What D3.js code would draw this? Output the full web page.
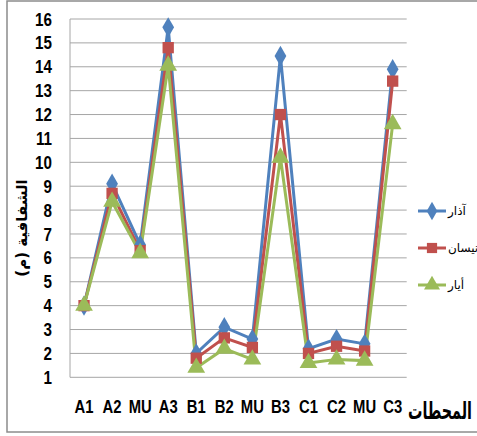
<!DOCTYPE html>
<html><head><meta charset="utf-8">
<script src="https://cdn.jsdelivr.net/npm/d3@7"></script>
<style>
body{margin:0;background:#fff;}
svg{display:block;}
</style></head>
<body>
<svg id="chart" width="477" height="436"></svg>
<script>
const categories = ["A1","A2","MU","A3","B1","B2","MU","B3","C1","C2","MU","C3"];
const seriesNames = ["آذار","نيسان","أيار"];
const adhar  = [4.0, 9.1, 6.55, 15.65, 2.0, 3.1, 2.6, 14.45, 2.2, 2.6, 2.4, 13.9];
const nisan  = [4.0, 8.7, 6.3, 14.8, 1.8, 2.65, 2.25, 12.0, 2.0, 2.3, 2.1, 13.4];
const ayyar  = [4.0, 8.35, 6.2, 14.05, 1.4, 2.2, 1.75, 10.2, 1.6, 1.75, 1.7, 11.6];
const yTicks = [1,2,3,4,5,6,7,8,9,10,11,12,13,14,15,16];
const colors = ["#4F81BD","#C0504D","#9BBB59"];
const symbols = [d3.symbolDiamond, d3.symbolSquare, d3.symbolTriangle];
const symSizes = [75, 80, 85];

const svg = d3.select("#chart");
const W = 477, H = 436;
const plot = {left:70, right:406.7, top:19, bottom:377.3};
const font = "'Liberation Sans',Arial,sans-serif";
const arFont = "'DejaVu Sans','Noto Sans',sans-serif";

function narrow(sel, f){
  sel.each(function(){
    const len = this.getComputedTextLength();
    d3.select(this).attr("textLength", len*f).attr("lengthAdjust","spacingAndGlyphs");
  });
}

// outer border
svg.append("rect").attr("x",7).attr("y",1).attr("width",W+10).attr("height",432-1)
  .attr("fill","none").attr("stroke","#8c8c8c").attr("stroke-width",1.5);

const x = d3.scaleBand().domain(d3.range(categories.length)).range([plot.left, plot.right]);
const y = d3.scaleLinear().domain([1,16]).range([plot.bottom, plot.top]);

// gridlines
svg.append("g").selectAll("line").data(yTicks).join("line")
  .attr("x1",plot.left).attr("x2",plot.right)
  .attr("y1",d=>y(d)).attr("y2",d=>y(d))
  .attr("stroke","#a6a6a6").attr("stroke-width",1);
svg.append("line").attr("x1",plot.left).attr("x2",plot.left).attr("y1",plot.top).attr("y2",plot.bottom)
  .attr("stroke","#a6a6a6").attr("stroke-width",1);

// y axis
const yAxis = d3.axisLeft(y).tickValues(yTicks).tickSize(0).tickPadding(18).tickFormat(d3.format("d"));
const gy = svg.append("g").attr("transform",`translate(${plot.left},0)`).call(yAxis);
gy.select(".domain").remove();
gy.selectAll("text").attr("font-family",font).attr("font-weight","bold").attr("font-size",19).attr("fill","#000")
  .call(narrow, 0.8);

// x axis
const xAxis = d3.axisBottom(x).tickSize(0).tickPadding(22).tickFormat(i=>categories[i]);
const gx = svg.append("g").attr("transform",`translate(0,${plot.bottom})`).call(xAxis);
gx.select(".domain").remove();
gx.selectAll("text").attr("font-family",font).attr("font-weight","bold").attr("font-size",19).attr("fill","#000")
  .call(narrow, 0.78);

// lines
const allSeries = [adhar, nisan, ayyar];
const line = d3.line().x((d,i)=>x(i)+x.bandwidth()/2).y(d=>y(d));
allSeries.forEach((s,k)=>{
  svg.append("path").datum(s).attr("d",line).attr("fill","none")
    .attr("stroke",colors[k]).attr("stroke-width",3).attr("stroke-linejoin","miter");
});
allSeries.forEach((s,k)=>{
  svg.append("g").selectAll("path").data(s).join("path")
    .attr("transform",(d,i)=>`translate(${x(i)+x.bandwidth()/2},${y(d)})`)
    .attr("d",d3.symbol().type(symbols[k]).size(symSizes[k]*1.6))
    .attr("fill",colors[k]);
});

// legend
const legY = [211, 248, 285];
seriesNames.forEach((n,k)=>{
  const g = svg.append("g").attr("transform",`translate(418,${legY[k]})`);
  g.append("line").attr("x1",0).attr("x2",28).attr("y1",0).attr("y2",0)
    .attr("stroke",colors[k]).attr("stroke-width",3);
  g.append("path").attr("transform","translate(14,0)")
    .attr("d",d3.symbol().type(symbols[k]).size(symSizes[k]*1.3)).attr("fill",colors[k]);
  g.append("text").attr("x",30).attr("y",4).attr("font-family",arFont)
    .attr("font-size",12).attr("fill","#000").text(n);
});

// y title
svg.append("text").attr("transform","translate(27,228) rotate(-90)")
  .attr("text-anchor","middle").attr("font-family",arFont)
  .attr("font-weight","bold").attr("font-size",15).attr("fill","#000").text("الشفافية (م)");

// x title (horizontally condensed to fit)
const xt = svg.append("text").attr("font-family",arFont).attr("font-weight","bold")
  .attr("font-size",24).attr("fill","#000").text("المحطات");
const xtLen = xt.node().getComputedTextLength();
const sx = 64 / xtLen;
xt.attr("transform",`translate(408,419) scale(${sx},1)`);
</script>
</body></html>
